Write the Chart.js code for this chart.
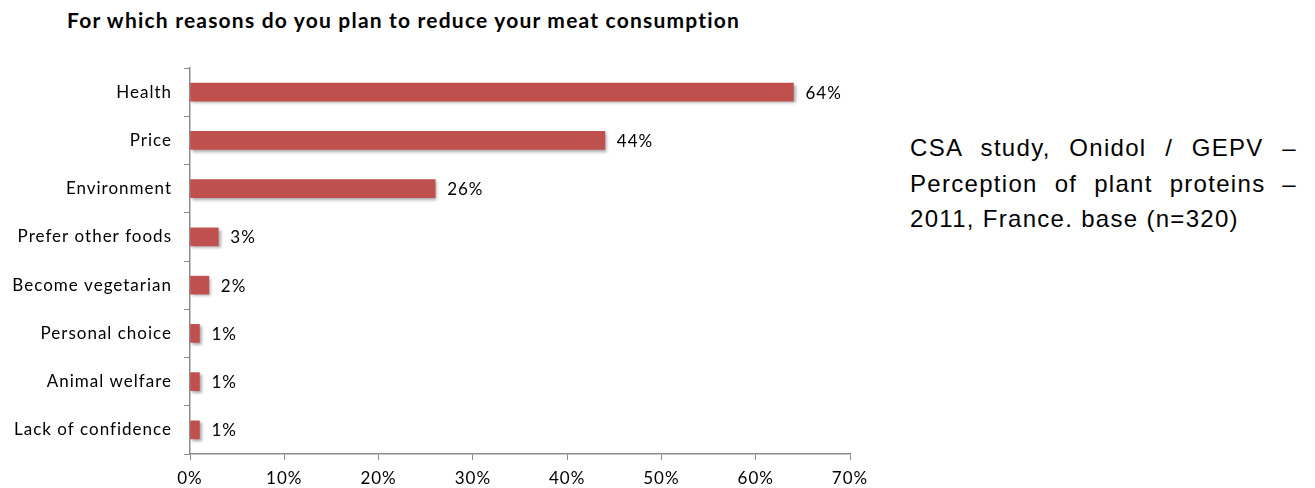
<!DOCTYPE html>
<html>
<head>
<meta charset="utf-8">
<script src="https://cdn.jsdelivr.net/npm/chart.js@4.4.0/dist/chart.umd.min.js"></script>
<style>
  html, body { margin: 0; padding: 0; background: #fff; }
  body { width: 1315px; height: 488px; position: relative; overflow: hidden; }
  #title {
    position: absolute; left: 67px; top: 7px;
    font-family: Lato, sans-serif; font-weight: bold; font-size: 21px; color: #000;
    letter-spacing: 1.2px; white-space: nowrap;
  }
  #wrap { position: absolute; left: 0; top: 0; width: 880px; height: 488px; }
  #note {
    position: absolute; left: 910px; top: 130px; width: 387px;
    font-family: "Liberation Sans", Arial, sans-serif; font-size: 24px; line-height: 35.5px;
    letter-spacing: 1.3px; text-align: justify; color: #000;
  }
</style>
</head>
<body>
<div id="title">For which reasons do you plan to reduce your meat consumption</div>
<div id="wrap"><canvas id="chart"></canvas></div>
<div id="note">CSA study, Onidol / GEPV – Perception of plant proteins – 2011, France. base (n=320)</div>
<script>
const reasons = ['Health', 'Price', 'Environment', 'Prefer other foods', 'Become vegetarian',
  'Personal choice', 'Animal welfare', 'Lack of confidence'];
const shares = [64, 44, 26, 3, 2, 1, 1, 1];
const tickValues = [0, 10, 20, 30, 40, 50, 60, 70];

// the original text is set quite loose, so widen the canvas text a little
const looseText = {
  id: 'looseText',
  beforeDraw(chart) {
    chart.ctx.letterSpacing = '1px';
  }
};

const barShadow = {
  id: 'barShadow',
  beforeDatasetsDraw(chart) {
    const ctx = chart.ctx;
    ctx.save();
    ctx.shadowColor = 'rgba(0,0,0,0.35)';
    ctx.shadowOffsetX = 2;
    ctx.shadowOffsetY = 2;
    ctx.shadowBlur = 3;
  },
  afterDatasetsDraw(chart) {
    chart.ctx.restore();
  }
};

// value labels to the right of each bar
const valueLabels = {
  id: 'valueLabels',
  afterDatasetsDraw(chart) {
    const ctx = chart.ctx;
    const meta = chart.getDatasetMeta(0);
    ctx.save();
    ctx.font = '17px Lato, sans-serif';
    ctx.fillStyle = '#000';
    ctx.textBaseline = 'middle';
    meta.data.forEach((bar, i) => {
      ctx.fillText(shares[i] + '%', bar.x + 12, bar.y + 1);
    });
    ctx.restore();
  }
};

new Chart(document.getElementById('chart'), {
  type: 'bar',
  data: {
    labels: reasons,
    datasets: [{
      data: shares,
      backgroundColor: '#C0504D',
      barThickness: 18
    }]
  },
  options: {
    indexAxis: 'y',
    responsive: true,
    maintainAspectRatio: false,
    animation: false,
    layout: { padding: { top: 68, right: 30, left: 0, bottom: 0 } },
    plugins: {
      legend: { display: false },
      tooltip: { enabled: false }
    },
    scales: {
      x: {
        min: 0,
        max: 70,
        afterBuildTicks(scale) {
          scale.ticks = tickValues.map(v => ({ value: v }));
        },
        afterFit(scale) { scale.height = 34; },
        grid: { drawOnChartArea: false, tickLength: 6, color: '#8c8c8c' },
        border: { color: '#8c8c8c', width: 1.5 },
        ticks: {
          padding: 8,
          color: '#000',
          font: { family: 'Lato, sans-serif', size: 17 },
          callback: v => v + '%'
        }
      },
      y: {
        afterFit(scale) { scale.width = 190; },
        grid: { drawOnChartArea: false, tickLength: 6, color: '#8c8c8c', offset: true },
        border: { color: '#8c8c8c', width: 1.5 },
        ticks: {
          padding: 12,
          color: '#000',
          font: { family: 'Lato, sans-serif', size: 17 }
        }
      }
    }
  },
  plugins: [looseText, barShadow, valueLabels]
});
</script>
</body>
</html>
